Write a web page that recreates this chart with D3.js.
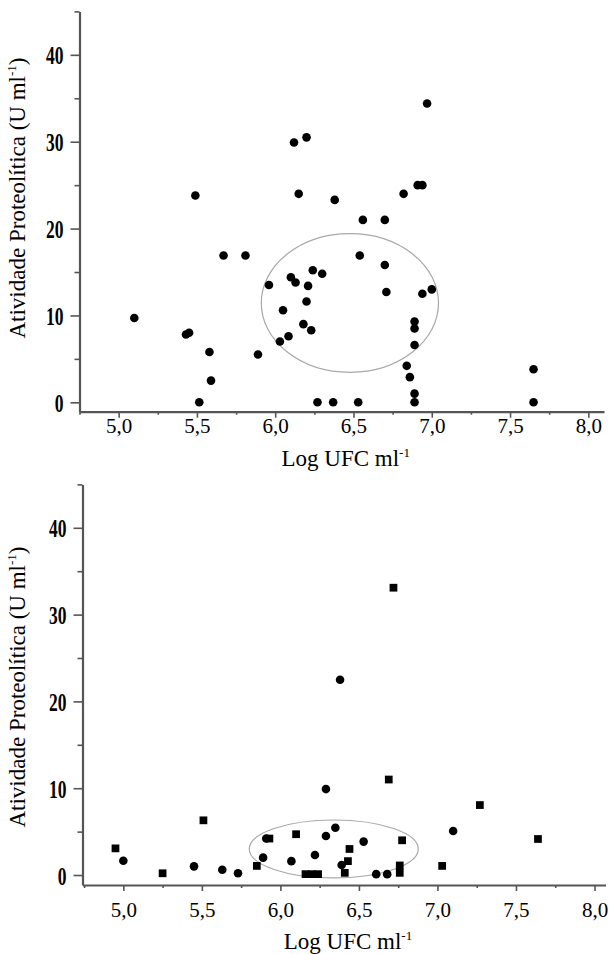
<!DOCTYPE html>
<html>
<head>
<meta charset="utf-8">
<script src="https://cdn.jsdelivr.net/npm/d3@7/dist/d3.min.js"></script>
<style>
  html, body { margin: 0; padding: 0; background: #fff; }
  svg { display: block; }
</style>
</head>
<body>
<svg id="chart" width="609" height="954"></svg>
<script>
// ---------- DATA ----------
// Panel A (circles)
const topX = [5.10, 5.43, 5.45, 5.49, 5.515, 5.58, 5.59, 5.67, 5.81, 5.89,
  5.96, 6.03, 6.05, 6.085, 6.10, 6.12, 6.13, 6.15, 6.18, 6.20,
  6.20, 6.21, 6.23, 6.24, 6.27, 6.30, 6.37, 6.38, 6.53, 6.54,
  6.56, 6.70, 6.70, 6.71, 6.82, 6.84, 6.86, 6.89, 6.89, 6.89,
  6.89, 6.89, 6.91, 6.94, 6.94, 6.97, 7.00, 7.65, 7.65];
const topY = [9.7, 7.8, 8.0, 23.8, 0.0, 5.8, 2.5, 16.9, 16.9, 5.5,
  13.5, 7.0, 10.6, 7.6, 14.4, 29.9, 13.8, 24.0, 9.0, 30.5,
  11.6, 13.4, 8.3, 15.2, 0.0, 14.8, 0.0, 23.3, 0.0, 16.9,
  21.0, 21.0, 15.8, 12.7, 24.0, 4.2, 2.9, 9.3, 8.5, 6.6,
  1.0, 0.0, 25.0, 25.0, 12.5, 34.4, 13.0, 3.8, 0.0];

// Panel B (circles and squares)
const botX = [4.95, 5.00, 5.25, 5.45, 5.51, 5.63, 5.73, 5.85, 5.89, 5.91,
  5.93, 6.07, 6.10, 6.16, 6.20, 6.24, 6.22, 6.29, 6.29, 6.35,
  6.38, 6.39, 6.43, 6.41, 6.44, 6.53, 6.61, 6.68, 6.69, 6.72,
  6.775, 6.76, 6.76, 7.03, 7.10, 7.27, 7.64];
const botY = [3.07, 1.65, 0.2, 1.0, 6.3, 0.6, 0.2, 1.05, 2.0, 4.2,
  4.2, 1.6, 4.7, 0.1, 0.1, 0.1, 2.3, 9.9, 4.5, 5.45,
  22.5, 1.15, 1.6, 0.25, 3.0, 3.85, 0.1, 0.1, 11.0, 33.1,
  4.0, 1.1, 0.25, 1.05, 5.07, 8.06, 4.15];
const botShape = ["s", "c", "s", "c", "s", "c", "c", "s", "c", "c",
  "s", "c", "s", "s", "s", "s", "c", "c", "c", "c",
  "c", "c", "s", "s", "s", "c", "c", "c", "s", "s",
  "s", "s", "s", "s", "c", "s", "s"];

// Highlight ellipses [cx, cy, rx, ry] in data units
const topEllipse = [6.477, 11.43, 0.566, 7.98];
const botEllipse = [6.34, 3.0, 0.538, 3.34];

// Ticks
const xTickValues = [5.0, 5.5, 6.0, 6.5, 7.0, 7.5, 8.0];
const xTickLabels = ["5,0", "5,5", "6,0", "6,5", "7,0", "7,5", "8,0"];
const xMinorTicks = [4.75, 5.25, 5.75, 6.25, 6.75, 7.25, 7.75];
const yTickValues = [0, 10, 20, 30, 40];
const yMinorTicks = [5, 15, 25, 35, 45];

const yTitle = "Atividade Proteolítica (U ml";
const xTitle = "Log UFC ml";

// ---------- LAYOUT ----------
const panels = [
  { xs: topX, ys: topY, shapes: topX.map(() => "c"), ell: topEllipse,
    xDomain: [4.75, 8.1], xRange: [79.5, 604],
    yDomain: [-1.08, 45], yRange: [411.7, 11.4],
    xLabelY: 21.5, xTitleY: 54, yTitleX: 25, yTitleY: 198 },
  { xs: botX, ys: botY, shapes: botShape, ell: botEllipse,
    xDomain: [4.74, 8.07], xRange: [82.5, 605.5],
    yDomain: [-1.15, 45], yRange: [885, 484.4],
    xLabelY: 31.5, xTitleY: 64, yTitleX: 25, yTitleY: 687 }
];

const svg = d3.select("#chart");
const AXIS = "#555";

panels.forEach(p => {
  const x = d3.scaleLinear().domain(p.xDomain).range(p.xRange);
  const y = d3.scaleLinear().domain(p.yDomain).range(p.yRange);
  const g = svg.append("g");
  const x0 = p.xRange[0], yBase = p.yRange[0];

  // ellipse
  const e = p.ell;
  g.append("ellipse")
    .attr("cx", x(e[0])).attr("cy", y(e[1]))
    .attr("rx", x(e[0] + e[2]) - x(e[0]))
    .attr("ry", y(e[1]) - y(e[1] + e[3]))
    .attr("fill", "none").attr("stroke", "#a8a8a8").attr("stroke-width", 1.2);

  // y axis minor
  g.append("g").attr("transform", `translate(${x0},0)`)
    .call(d3.axisLeft(y).tickValues(yMinorTicks).tickSize(5).tickSizeOuter(0).tickFormat(""))
    .call(s => s.select(".domain").remove())
    .call(s => s.selectAll("line").attr("stroke", AXIS).attr("stroke-width", 1.6));

  // y axis major
  const ya = g.append("g").attr("transform", `translate(${x0},0)`)
    .call(d3.axisLeft(y).tickValues(yTickValues).tickSize(9).tickSizeOuter(0));
  ya.select(".domain").attr("stroke", AXIS).attr("stroke-width", 2.2);
  ya.selectAll("line").attr("stroke", AXIS).attr("stroke-width", 1.6);
  ya.selectAll("text")
    .attr("x", null).attr("dy", null)
    .attr("dominant-baseline", "central")
    .attr("transform", "translate(-16,1) scale(0.7,1)")
    .attr("font-family", "'Liberation Serif', 'Times New Roman', serif")
    .attr("font-weight", "bold")
    .attr("font-size", 25)
    .attr("fill", "#000");

  // x axis minor
  g.append("g").attr("transform", `translate(0,${yBase})`)
    .call(d3.axisBottom(x).tickValues(xMinorTicks).tickSize(3).tickSizeOuter(0).tickFormat(""))
    .call(s => s.select(".domain").remove())
    .call(s => s.selectAll("line").attr("stroke", AXIS).attr("stroke-width", 1.6));

  // x axis major
  const xa = g.append("g").attr("transform", `translate(0,${yBase})`)
    .call(d3.axisBottom(x).tickValues(xTickValues).tickSize(6).tickSizeOuter(0)
      .tickFormat((d, i) => xTickLabels[i]));
  xa.select(".domain").attr("stroke", AXIS).attr("stroke-width", 2.2);
  xa.selectAll("line").attr("stroke", AXIS).attr("stroke-width", 1.6);
  xa.selectAll("text")
    .attr("y", p.xLabelY).attr("dy", null)
    .attr("font-family", "'Liberation Serif', 'Times New Roman', serif")
    .attr("font-size", 21)
    .attr("fill", "#000");

  // markers
  const sym = d3.symbol();
  g.append("g").selectAll("path")
    .data(p.xs.map((v, i) => ({ x: v, y: p.ys[i], s: p.shapes[i] })))
    .join("path")
    .attr("transform", d => `translate(${x(d.x)},${y(d.y)})`)
    .attr("d", d => d.s === "s"
      ? sym.type(d3.symbolSquare).size(60)()
      : sym.type(d3.symbolCircle).size(58)())
    .attr("fill", "#000");

  // x title
  const xt = g.append("text")
    .attr("x", (p.xRange[0] + p.xRange[1]) / 2 + 4)
    .attr("y", yBase + p.xTitleY)
    .attr("text-anchor", "middle")
    .attr("font-family", "'Liberation Serif', 'Times New Roman', serif")
    .attr("font-size", 23)
    .attr("fill", "#000");
  xt.append("tspan").text(xTitle);
  xt.append("tspan").attr("font-size", 13).attr("dy", -9).text("-1");

  // y title
  const yt = g.append("text")
    .attr("transform", `translate(${p.yTitleX},${p.yTitleY}) rotate(-90)`)
    .attr("text-anchor", "middle")
    .attr("font-family", "'Liberation Serif', 'Times New Roman', serif")
    .attr("font-size", 23)
    .attr("fill", "#000");
  yt.append("tspan").text(yTitle);
  yt.append("tspan").attr("font-size", 13).attr("dy", -9).text("-1");
  yt.append("tspan").attr("dy", 9).text(")");
});
</script>
</body>
</html>
